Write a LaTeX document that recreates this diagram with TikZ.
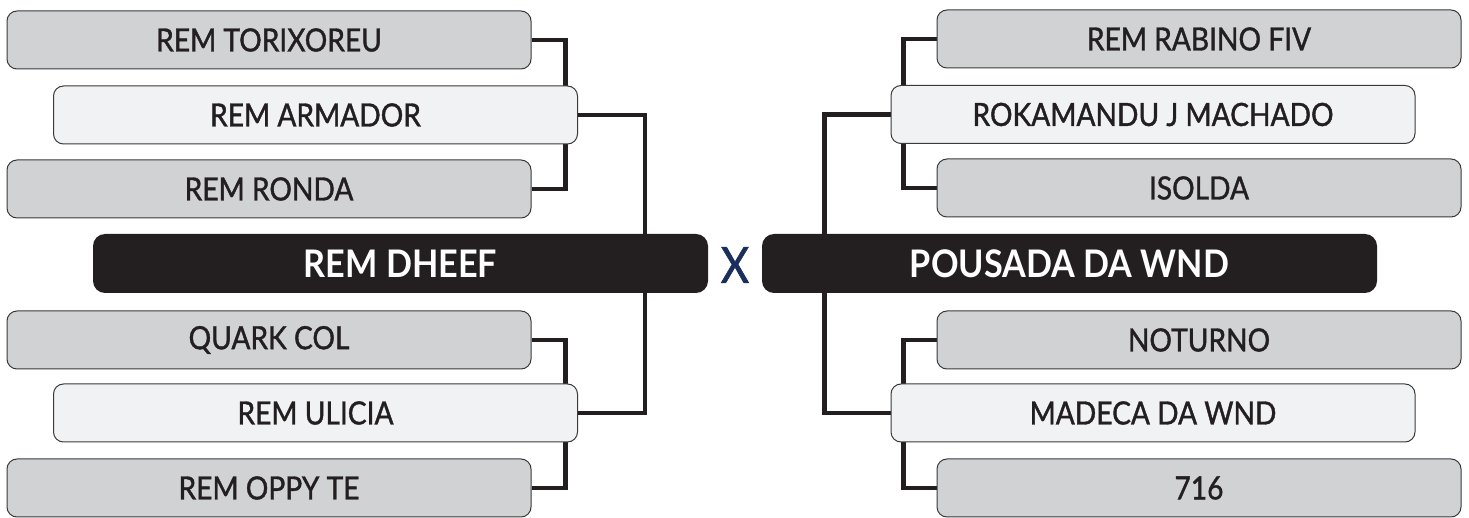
\documentclass[tikz,border=0pt]{standalone}
\usepackage{fontspec}
\setmainfont{Lato}[FakeStretch=0.9]
\newfontfamily\labfont{Lato}[FakeStretch=0.88, FakeBold=1.2]
\usetikzlibrary{backgrounds}
\definecolor{boxgray}{HTML}{D1D2D4}
\definecolor{boxlight}{HTML}{F1F2F3}
\definecolor{boxdark}{HTML}{231F20}
\definecolor{edgegray}{HTML}{3A3A3A}
\definecolor{vsblue}{HTML}{1B2F5E}
\tikzset{
  teambox/.style={draw=edgegray, line width=0.5pt, rounded corners=5pt, fill=boxgray,
    minimum width=262pt, minimum height=29pt, inner sep=0pt, text=boxdark,
    font=\labfont\fontsize{16}{16}\selectfont},
  winbox/.style={teambox, fill=boxlight},
  finalbox/.style={draw=none, rounded corners=6pt, fill=boxdark, minimum width=307.5pt,
    minimum height=29.5pt, inner sep=0pt, text=white, font=\bfseries\fontsize{19}{19}\selectfont},
  link/.style={draw=boxdark, line width=2.4pt},
}
\begin{document}
\begin{tikzpicture}[x=0.5pt,y=-0.5pt]
\useasboundingbox (0,0) rectangle (1469,518);
% left side
\node[teambox] (t1) at (269,40) {REM TORIXOREU};
\node[winbox]  (t2) at (315.5,115) {REM ARMADOR};
\node[teambox] (t3) at (269,189) {REM RONDA};
\node[finalbox] (fl) at (400.5,263.5) {REM DHEEF};
\node[teambox] (b1) at (269,340) {QUARK COL};
\node[winbox]  (b2) at (315.5,413) {REM ULICIA};
\node[teambox] (b3) at (269,488) {REM OPPY TE};
% right side
\node[teambox] (r1) at (1199,39) {REM RABINO FIV};
\node[winbox]  (r2) at (1153,114.5) {ROKAMANDU J MACHADO};
\node[teambox] (r3) at (1199,188) {ISOLDA};
\node[finalbox] (fr) at (1069.5,263.5) {POUSADA DA WND};
\node[teambox] (r4) at (1199,340) {NOTURNO};
\node[winbox]  (r5) at (1153,413) {MADECA DA WND};
\node[teambox] (r6) at (1199,488) {716};
% versus
\node[text=vsblue, font=\labfont\fontsize{25}{25}\selectfont, inner sep=0pt] (vs) at (735,265) {X};
\begin{scope}[on background layer]
\draw[link] (t1.east) -- ++(34,0) |- (t3.east);
\draw[link] (t2.east) -- ++(67,0) |- (b2.east);
\draw[link] (b1.east) -- ++(34,0) |- (b3.east);
\draw[link] (r1.west) -- ++(-33,0) |- (r3.west);
\draw[link] (r2.west) -- ++(-66,0) |- (r5.west);
\draw[link] (r4.west) -- ++(-33,0) |- (r6.west);
\end{scope}
\end{tikzpicture}
\end{document}
